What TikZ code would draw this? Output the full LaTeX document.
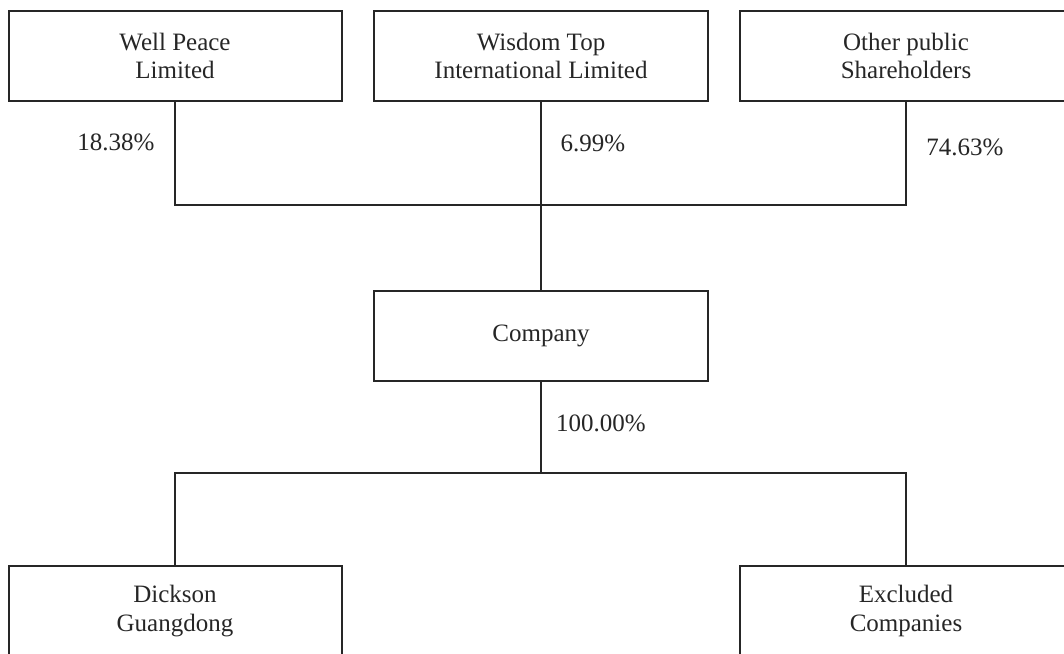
\documentclass[tikz,border=0pt]{standalone}
\usepackage{fontspec}
\setmainfont{Liberation Serif}
\begin{document}
\begin{tikzpicture}[x=1pt,y=1pt,
  box/.style={draw=black!85, line width=2pt, rectangle, align=center, inner sep=0pt,
    font=\fontsize{25}{28.5}\selectfont, text=black!85},
  link/.style={draw=black!85, line width=2pt},
  pct/.style={font=\fontsize{25}{28.5}\selectfont, text=black!85, inner sep=0pt}]
\clip (0,0) rectangle (1064,-653);
\useasboundingbox (0,0) rectangle (1064,-653);
\node[box, minimum width=333pt, minimum height=90.5pt] (wp) at (175,-55.75) {Well Peace\\Limited};
\node[box, minimum width=333.5pt, minimum height=90.5pt] (wt) at (541,-55.75) {Wisdom Top\\International Limited};
\node[box, minimum width=332pt, minimum height=90.5pt] (ot) at (906,-55.75) {Other public\\Shareholders};
\node[box, minimum width=334pt, minimum height=90pt] (co) at (541,-336) {Company};
\node[box, minimum width=333pt, minimum height=90.5pt] (dg) at (175,-611) {Dickson\\Guangdong};
\node[box, minimum width=332pt, minimum height=90.5pt] (ex) at (906,-611) {Excluded\\Companies};
\coordinate (top) at (541,-205);
\coordinate (bot) at (541,-473);
\draw[link] (wp.south) |- (top) -| (ot.south);
\draw[link] (wt.south) -- (co.north);
\draw[link] (co.south) -- (bot);
\draw[link] (dg.north) |- (bot) -| (ex.north);
\node[pct] (p1) at (116,-142) {18.38\%};
\node[pct] (p2) at (593,-143) {6.99\%};
\node[pct] (p3) at (965,-147) {74.63\%};
\node[pct] (p4) at (601,-423) {100.00\%};
\end{tikzpicture}
\end{document}
